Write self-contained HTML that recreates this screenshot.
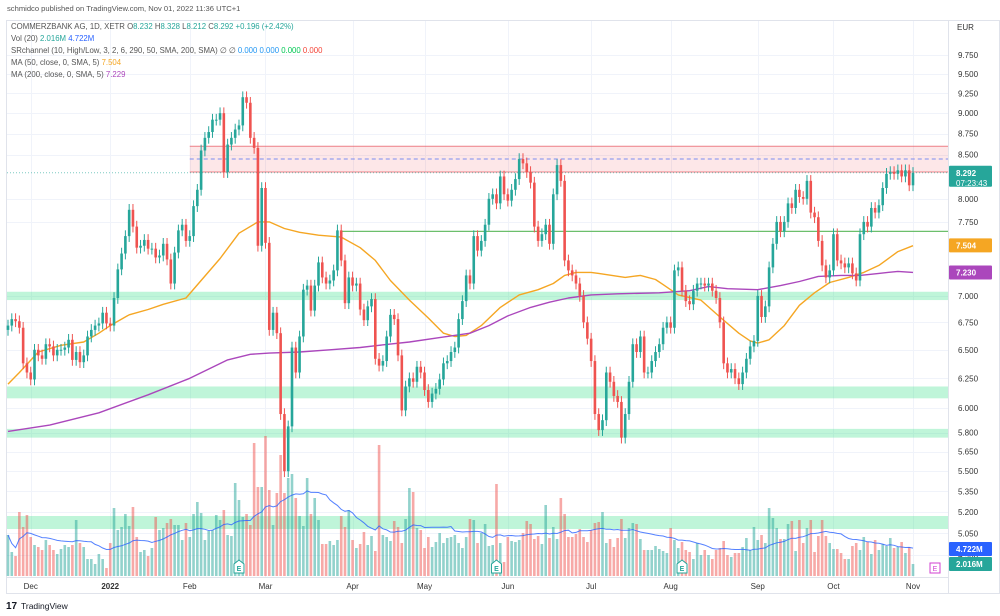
<!DOCTYPE html>
<html><head><meta charset="utf-8"><style>
html,body{margin:0;padding:0;background:#fff;}
svg{display:block;font-family:"Liberation Sans",sans-serif;}
</style></head><body>
<svg id="chart" width="1000" height="616" viewBox="0 0 1000 616" xmlns="http://www.w3.org/2000/svg">
<rect x="0" y="0" width="1000" height="616" fill="#ffffff"/>
<text x="7" y="11" font-size="7.6" fill="#555">schmidco published on TradingView.com, Nov 01, 2022 11:36 UTC+1</text>
<rect x="6.5" y="20.5" width="993" height="573" fill="none" stroke="#e0e3eb"/>
<line x1="948.5" y1="20" x2="948.5" y2="594" stroke="#e0e3eb"/>
<line x1="6" y1="577.5" x2="948" y2="577.5" stroke="#e0e3eb"/>
<g id="grid"></g>
<g id="zones"></g>
<g id="vol"></g>
<g id="ma"></g>
<g id="candles"></g>
<g id="axis"></g>
<g id="taxis"></g>
<g font-size="7.8" fill="#555">
<text x="11" y="29">COMMERZBANK AG, 1D, XETR  O<tspan fill="#26a69a">8.232</tspan>  H<tspan fill="#26a69a">8.328</tspan>  L<tspan fill="#26a69a">8.212</tspan>  C<tspan fill="#26a69a">8.292</tspan>  <tspan fill="#26a69a">+0.196 (+2.42%)</tspan></text>
<text x="11" y="41">Vol (20)  <tspan fill="#26a69a">2.016M</tspan>  <tspan fill="#2962ff">4.722M</tspan></text>
<text x="11" y="53">SRchannel (10, High/Low, 3, 2, 6, 290, 50, SMA, 200, SMA)  ∅  ∅  <tspan fill="#2196f3">0.000</tspan>  <tspan fill="#2196f3">0.000</tspan>  <tspan fill="#00c853">0.000</tspan>  <tspan fill="#f44336">0.000</tspan></text>
<text x="11" y="65">MA (50, close, 0, SMA, 5)  <tspan fill="#f5a623">7.504</tspan></text>
<text x="11" y="77">MA (200, close, 0, SMA, 5)  <tspan fill="#ab47bc">7.229</tspan></text>
</g>
<text x="957" y="30" font-size="8" fill="#333">EUR</text>
<g id="tags"></g>
<g>
<text x="6" y="609" font-size="10" font-weight="bold" fill="#131722">17</text>
<text x="21" y="609" font-size="8.5" fill="#131722">TradingView</text>
</g>
</svg>
<script>
const closes = [6.72,6.78,6.76,6.70,6.38,6.30,6.24,
6.50,6.45,6.42,6.55,6.53,6.45,6.50,6.50,6.52,6.59,6.41,6.48,6.39,6.45,6.62,6.68,6.72,6.74,6.84,6.74,6.72,
6.98,7.26,7.42,7.60,7.88,7.70,7.48,7.50,7.56,7.47,7.47,7.38,7.40,7.52,7.36,7.12,7.43,7.66,7.72,7.55,7.60,7.92,
8.10,8.55,8.70,8.77,8.92,8.92,9.00,8.30,8.62,8.70,8.80,8.85,9.20,9.13,8.70,8.58,7.50,8.12,7.53,6.68,
6.84,6.65,5.95,5.50,5.85,6.52,6.30,6.62,7.06,7.10,6.86,7.10,7.33,7.18,7.12,7.15,7.25,7.66,7.35,6.93,7.18,7.10,
7.12,6.87,6.77,6.90,6.97,6.42,6.36,6.40,6.62,6.82,6.78,6.45,5.98,6.18,6.25,6.22,6.35,6.30,6.15,6.05,6.12,6.16,
6.24,6.38,6.40,6.48,6.52,6.78,6.95,7.20,7.12,7.60,7.45,7.55,7.72,8.00,8.05,7.95,8.25,8.05,7.98,8.10,8.22,8.45,
8.40,8.30,8.18,7.70,7.55,7.62,7.72,7.52,8.05,8.38,
8.20,7.35,7.25,7.20,7.12,7.00,6.75,6.60,6.40,5.95,
5.82,5.90,6.30,6.22,6.10,6.05,5.76,5.95,6.22,6.55,
6.48,6.62,6.30,6.30,6.40,6.48,6.55,6.70,6.75,6.70,
7.25,7.28,7.05,6.95,6.92,7.05,7.12,7.12,7.10,7.12,
7.05,6.98,6.75,6.38,6.30,6.33,6.25,6.20,6.30,6.42,
6.53,6.58,7.00,6.80,6.90,7.28,7.52,7.75,7.65,7.75,
7.95,7.90,8.10,8.02,8.00,8.20,7.85,7.80,7.55,7.30,
7.18,7.25,7.62,7.35,7.32,7.28,7.32,7.22,7.15,7.62,
7.75,7.70,7.90,7.85,7.93,8.12,8.28,8.30,8.28,8.32,
8.25,8.32,8.15,8.29];
const firstOpen = 6.68;
const volumes = [41,24,20,64,49,61,39,31,29,26,
36,31,26,22,27,31,29,31,56,33,
29,17,17,12,22,17,8,33,68,46,
49,62,50,69,39,24,26,20,28,59,
46,48,53,57,51,51,36,53,39,62,
74,63,36,45,46,61,56,66,41,40,
93,76,59,62,51,133,89,89,140,86,
51,83,121,83,98,102,78,60,50,98,
62,78,56,32,32,35,31,36,60,49,
66,36,28,32,44,31,40,25,131,41,
39,35,55,49,33,57,88,84,48,46,
28,39,29,34,43,33,38,39,41,33,
28,39,57,56,33,43,52,30,31,
92,33,14,39,35,34,36,43,55,52,37,40,32,71,38,49,37,78,62,39,39,42,47,39,34,46,53,54,64,33,37,29,38,57,38,48,53,52,37,26,26,26,30,27,25,23,48,36,28,34,26,24,17,33,21,26,21,17,26,28,35,21,19,23,23,29,38,26,49,36,41,33,68,58,48,37,37,52,55,25,56,33,48,56,24,40,56,40,33,27,27,23,17,17,30,33,26,39,34,22,36,26,32,30,38,28,29,34,23,29,12];
const ma50Idx = [0,3,8,14,20,24,27,32,37,41,47,51,56,61,66,69,73,77,82,88,93,97,101,106,111,115,118,121,125,130,135,140,144,147,150,154,156,163,167,171,173,177,183,188,193,196,198,201,205,209,213,217,222,226,230,235,239];
const ma50Val = [6.20,6.30,6.48,6.54,6.57,6.65,6.72,6.82,6.87,6.92,6.98,7.15,7.37,7.63,7.75,7.75,7.68,7.64,7.61,7.59,7.48,7.35,7.15,6.96,6.79,6.65,6.62,6.63,6.72,6.89,7.01,7.06,7.12,7.20,7.23,7.23,7.22,7.18,7.20,7.16,7.11,7.01,6.96,6.80,6.65,6.58,6.56,6.59,6.72,6.91,7.03,7.13,7.18,7.23,7.30,7.44,7.50];
const ma200Idx = [0,11,24,37,48,58,64,69,77,85,93,98,106,114,122,127,132,138,143,148,154,161,172,180,185,190,198,204,209,214,220,225,230,235,239];
const ma200Val = [5.81,5.86,5.96,6.11,6.25,6.41,6.46,6.47,6.48,6.50,6.52,6.54,6.57,6.61,6.65,6.72,6.81,6.89,6.94,6.98,7.01,7.02,7.03,7.05,7.09,7.07,7.06,7.10,7.14,7.19,7.20,7.20,7.22,7.24,7.23];
const priceTicks = ["9.750","9.500","9.250","9.000","8.750","8.500","8.000","7.750","7.000","6.750","6.500","6.250","6.000","5.800","5.650","5.500","5.350","5.200","5.050","4.900"];
const monthLabels = ["Dec","2022","Feb","Mar","Apr","May","Jun","Jul","Aug","Sep","Oct","Nov"];
const monthIdx = [6,27,48,68,91,110,132,154,175,198,218,239];
const zoneLow = [6.96,6.08,5.76];
const zoneHigh = [7.04,6.18,5.83];
const resistLow = 8.30, resistHigh = 8.60, resistMid = 8.45, trendLevel = 7.65, lastPrice = 8.292;

const NS = "http://www.w3.org/2000/svg";
const N = closes.length;
const X0 = 8, X1 = 913, XR = 948;
function xOf(i){ return X0 + i*(X1-X0)/(N-1); }
function yOf(p){ return 55 + 727*Math.log(9.75/p); }
function yVol(v){ return 576 - v; }
function mk(tag, attrs, parent){ const e=document.createElementNS(NS,tag); for(const k in attrs) e.setAttribute(k,attrs[k]); parent.appendChild(e); return e; }
const G = id => document.getElementById(id);

const grid = G('grid');
priceTicks.forEach(t=>{ const y=Math.round(yOf(parseFloat(t)))+0.5; const l=mk('line',{x1:7,x2:XR,y1:y,y2:y,stroke:'#f0f3fa'},grid);   });
monthIdx.forEach(i=>{ const x=Math.round(xOf(i))+0.5; const l=mk('line',{x1:x,x2:x,y1:21,y2:577,stroke:'#f0f3fa'},grid);   });

const zones = G('zones');
zoneLow.forEach((lo,k)=>{ const y1=yOf(zoneHigh[k]), y2=yOf(lo); const r=mk('rect',{x:7,y:y1,width:XR-7,height:y2-y1,fill:'rgba(60,225,140,0.33)'},zones);   });
{ const r=mk('rect',{x:7,y:516,width:XR-7,height:13,fill:'rgba(60,225,140,0.33)'},zones);   }
{ const y1=yOf(resistHigh), y2=yOf(resistLow), x0=xOf(48);
  const r=mk('rect',{x:x0,y:y1,width:XR-x0,height:y2-y1,fill:'rgba(242,54,69,0.12)'},zones);  
  const a=mk('line',{x1:x0,x2:XR,y1:y1,y2:y1,stroke:'rgba(230,80,90,0.7)'},zones);  
  const b=mk('line',{x1:x0,x2:XR,y1:y2,y2:y2,stroke:'rgba(230,80,90,0.7)'},zones);  
  const c=mk('line',{x1:x0,x2:XR,y1:yOf(resistMid),y2:yOf(resistMid),stroke:'#7a8cf0','stroke-dasharray':'4,3'},zones);  
  const t=mk('line',{x1:xOf(88),x2:XR,y1:yOf(trendLevel),y2:yOf(trendLevel),stroke:'#6cbf6c','stroke-width':1.3},zones);  
  const p=mk('line',{x1:7,x2:XR,y1:yOf(lastPrice),y2:yOf(lastPrice),stroke:'#26a69a','stroke-dasharray':'1,2','stroke-opacity':0.6},zones);  
}

const cg = G('candles'), vg = G('vol');
const bw = 2.6;
let prev = firstOpen;
for(let i=0;i<N;i++){
  const o=prev, c=closes[i]; prev=c;
  const up = c>=o, col = up?'#26a69a':'#ef5350';
  const x=xOf(i);
  const hi=Math.max(o,c)*1.008, lo=Math.min(o,c)*0.992;
  const w=mk('line',{x1:x,x2:x,y1:yOf(hi),y2:yOf(lo),stroke:col,'stroke-width':1},cg);
   
  const yt=yOf(Math.max(o,c)), yb=yOf(Math.min(o,c));
  const b=mk('rect',{x:x-bw/2,y:yt,width:bw,height:Math.max(1,yb-yt),fill:col},cg);
   
  const v=volumes[i]||0;
  const vb=mk('rect',{x:x-bw/2,y:yVol(v),width:bw,height:v,fill:up?'rgba(38,166,154,0.5)':'rgba(239,83,80,0.5)'},vg);
   
}
{ let d='';
  for(let i=0;i<N;i++){ const s=Math.max(0,i-19); let sum=0; for(let j=s;j<=i;j++) sum+=volumes[j]; const m=sum/(i-s+1); d+=(i?'L':'M')+xOf(i).toFixed(1)+','+yVol(m).toFixed(1); }
  const p=mk('path',{d:d,fill:'none',stroke:'#2962ff','stroke-width':1,'stroke-opacity':0.8},vg);
   
}
[61,129,178].forEach(i=>{ const x=xOf(i); const g=mk('g',{},vg);  
  mk('path',{d:`M${x-5},${573} v-9 l5,-4 l5,4 v9 z`,fill:'#fff',stroke:'#26a69a','stroke-width':1},g);
  mk('text',{x:x,y:571,'font-size':7,'text-anchor':'middle',fill:'#26a69a','font-weight':'bold'},g).textContent='E'; });
{ const g=mk('g',{},vg);  
  mk('rect',{x:930,y:563,width:10,height:10,fill:'#fff',stroke:'#d040d0'},g);
  mk('text',{x:935,y:571,'font-size':7,'text-anchor':'middle',fill:'#d040d0'},g).textContent='E'; }

function maPath(idx,vals,col,name){ let d=''; idx.forEach((i,k)=>{ d+=(k?'L':'M')+xOf(i).toFixed(1)+','+yOf(vals[k]).toFixed(1); });
  const p=mk('path',{d:d,fill:'none',stroke:col,'stroke-width':1.4,'stroke-linejoin':'round'},G('ma'));
    }
maPath(ma50Idx,ma50Val,'#f5a623','ma50-line');
maPath(ma200Idx,ma200Val,'#ab47bc','ma200-line');

const ax=G('axis');
priceTicks.forEach(t=>{ const tx=mk('text',{x:958,y:yOf(parseFloat(t))+3,'font-size':8,fill:'#333'},ax); tx.textContent=t;
    });
const ta=G('taxis');
monthLabels.forEach((m,k)=>{ const tx=mk('text',{x:xOf(monthIdx[k]),y:589,'font-size':8,fill:'#333','text-anchor':'middle','font-weight':m==='2022'?'bold':'normal'},ta); tx.textContent=m;
    });

const tg=G('tags');
function tag(y,h,col,lines,name){ const g=mk('g',{},tg);  
  mk('rect',{x:949,y:y,width:43,height:h,fill:col,rx:1},g);
  lines.forEach((s,k)=>{ const t=mk('text',{x:956,y:y+10+k*10,'font-size':8,fill:'#fff','font-weight':k===0?'bold':'normal'},g); t.textContent=s; }); }
tag(yOf(lastPrice)-7,21,'#26a69a',['8.292','07:23:43'],'last-price-tag');
tag(yOf(7.504)-7,14,'#f5a623',['7.504'],'ma50-tag');
tag(yOf(7.229)-7,14,'#ab47bc',['7.230'],'ma200-tag');
tag(542,14,'#2962ff',['4.722M'],'volume-ma-tag');
tag(557,14,'#26a69a',['2.016M'],'volume-tag');
</script>
</body></html>
